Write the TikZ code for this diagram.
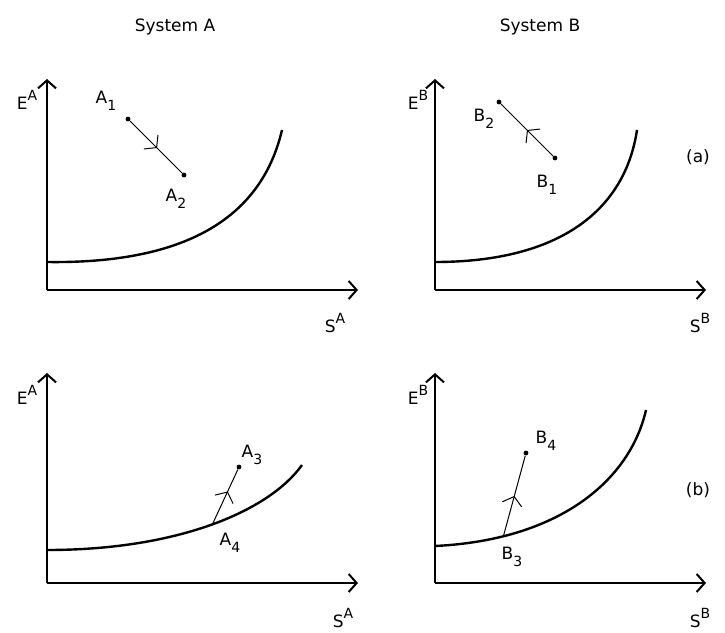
\documentclass[tikz,border=0pt]{standalone}
\usepackage{fontspec}
\setmainfont{DejaVu Sans}
\usetikzlibrary{arrows.meta,decorations.markings}
\newcommand{\supx}[1]{\raisebox{0.9ex}{\scriptsize #1}}
\newcommand{\subx}[1]{\raisebox{-0.7ex}{\scriptsize #1}}
\begin{document}
\begin{tikzpicture}[x=0.5pt,y=-0.5pt,
  axis/.style={line width=1pt,-{Straight Barb[length=4pt,width=9pt]}},
  curvestyle/.style={line width=1.2pt},
  dot/.style={circle,fill,inner sep=0pt,minimum size=2.4pt},
  lbl/.style={font=\fontsize{8.5}{10}\selectfont,inner sep=0pt},
  title/.style={font=\fontsize{8.5}{10}\selectfont,inner sep=0pt},
  proc/.style={line width=0.5pt,postaction={decorate},decoration={markings,
    mark=at position #1 with {\arrow{Straight Barb[length=4pt,width=10pt,line width=0.5pt]}}}},
  proc/.default=0.55]
\useasboundingbox (0,0) rectangle (725,633);
% titles
\node[title] (tA) at (175,27) {System A};
\node[title] (tB) at (540,27) {System B};
% ---------- panel (a) left
\coordinate (oa1) at (47,290);
\coordinate (ya1) at (47,79);
\coordinate (xa1) at (358,290);
\draw[axis] (oa1) -- (ya1);
\draw[axis] (oa1) -- (xa1);
\node[lbl] (Ea1) at (27,100) {E\supx{A}};
\node[lbl] (Sa1) at (335,323) {S\supx{A}};
\draw[curvestyle] (47,262) .. controls (190,264) and (262,215) .. (282,130);
\node[dot] (A1) at (128,119) {};
\node[dot] (A2) at (184,175) {};
\draw[proc=0.52] (A1) -- (A2);
\node[lbl] (lA1) at (106,101) {A\subx{1}};
\node[lbl] (lA2) at (176,199) {A\subx{2}};
% ---------- panel (a) right
\coordinate (ob1) at (435,290);
\coordinate (yb1) at (435,79);
\coordinate (xb1) at (706,290);
\draw[axis] (ob1) -- (yb1);
\draw[axis] (ob1) -- (xb1);
\node[lbl] (Eb1) at (418,100) {E\supx{B}};
\node[lbl] (Sb1) at (700,323) {S\supx{B}};
\draw[curvestyle] (435,262) .. controls (560,262) and (625,210) .. (637,130);
\node[dot] (B2) at (499,102) {};
\node[dot] (B1) at (555,158) {};
\draw[proc=0.5] (B1) -- (B2);
\node[lbl] (lB2) at (484,119) {B\subx{2}};
\node[lbl] (lB1) at (547,185) {B\subx{1}};
\node[lbl] (la) at (698,157) {(a)};
% ---------- panel (b) left
\coordinate (oa2) at (47,583);
\coordinate (ya2) at (47,373);
\coordinate (xa2) at (358,583);
\draw[axis] (oa2) -- (ya2);
\draw[axis] (oa2) -- (xa2);
\node[lbl] (Ea2) at (27,395) {E\supx{A}};
\node[lbl] (Sa2) at (343,618) {S\supx{A}};
\draw[curvestyle] (47,550) .. controls (180,550) and (270,510) .. (302,465)
  coordinate[pos=0.5] (A4);
\node[dot] (A3) at (239,467) {};
\draw[proc=0.6] (A4) -- (A3);
\node[lbl] (lA3) at (252,455) {A\subx{3}};
\node[lbl] (lA4) at (230,543) {A\subx{4}};
% ---------- panel (b) right
\coordinate (ob2) at (435,583);
\coordinate (yb2) at (435,373);
\coordinate (xb2) at (706,583);
\draw[axis] (ob2) -- (yb2);
\draw[axis] (ob2) -- (xb2);
\node[lbl] (Eb2) at (418,395) {E\supx{B}};
\node[lbl] (Sb2) at (700,618) {S\supx{B}};
\draw[curvestyle] (435,546) .. controls (560,540) and (630,480) .. (646,410)
  coordinate[pos=0.2] (B3);
\node[dot] (B4) at (526,453) {};
\draw[proc=0.5] (B3) -- (B4);
\node[lbl] (lB4) at (546,441) {B\subx{4}};
\node[lbl] (lB3) at (512,557) {B\subx{3}};
\node[lbl] (lb) at (698,490) {(b)};
\end{tikzpicture}
\end{document}
